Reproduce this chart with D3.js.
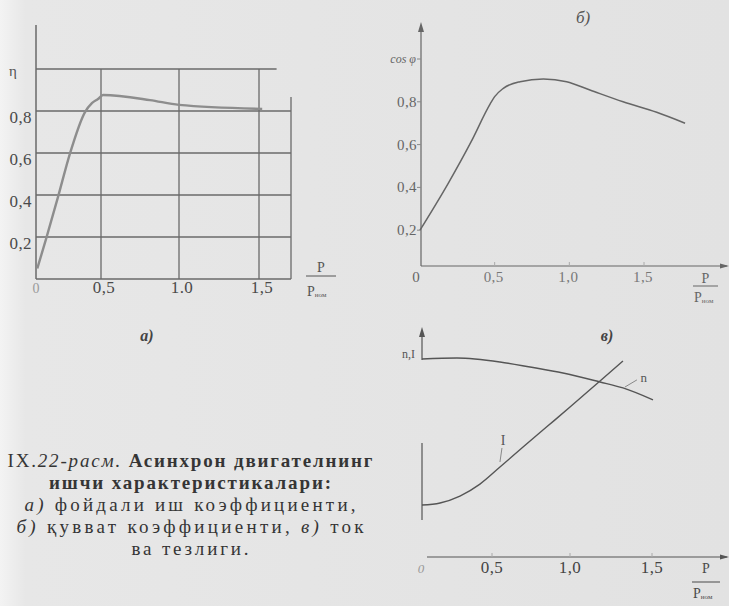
<!DOCTYPE html>
<html><head><meta charset="utf-8">
<script src="https://cdn.jsdelivr.net/npm/d3@7"></script>
<style>body{margin:0;background:#e3e3e3;} svg{display:block}</style>
</head><body><svg id="c" width="729" height="606"></svg>
<script>
// ---------- DATA ----------
// а) efficiency η vs P/Pном
const etaYTicks = [0.2, 0.4, 0.6, 0.8];
const etaYLabels = ["0,2", "0,4", "0,6", "0,8"];
const etaXTicks = [0.5, 1.0, 1.5];
const etaXLabels = ["0,5", "1.0", "1,5"];
const etaLoad   = [0.01, 0.077, 0.169, 0.26, 0.377, 0.43, 0.477, 0.513, 0.814, 1.0, 1.52];
const etaValues = [0.05, 0.19, 0.39, 0.595, 0.795, 0.838, 0.857, 0.876, 0.852, 0.829, 0.81];

// б) power factor cos φ vs P/Pном
const cosYTicks = [0.2, 0.4, 0.6, 0.8];
const cosYLabels = ["0,2", "0,4", "0,6", "0,8"];
const cosXTicks = [0.5, 1.0, 1.5];
const cosXLabels = ["0,5", "1,0", "1,5"];
const cosLoad   = [0, 0.19, 0.34, 0.47, 0.5, 0.558, 0.67, 0.826, 0.982, 1.138, 1.36, 1.585, 1.775];
const cosValues = [0.2, 0.42, 0.61, 0.79, 0.824, 0.863, 0.894, 0.907, 0.894, 0.855, 0.80, 0.751, 0.70];

// в) speed n and current I vs P/Pном (relative units)
const curXTicks = [0.5, 1.0, 1.5];
const curXLabels = ["0,5", "1,0", "1,5"];
const nLoad   = [0, 0.25, 0.551, 0.744, 0.955, 1.183, 1.323, 1.506];
const nValues = [0.861, 0.865, 0.848, 0.826, 0.80, 0.761, 0.735, 0.683];
const iLoad   = [0, 0.129, 0.271, 0.414, 0.551, 0.699, 0.853, 1.0, 1.183, 1.323];
const iValues = [0.226, 0.235, 0.265, 0.317, 0.391, 0.478, 0.567, 0.652, 0.765, 0.852];

// ---------- DRAW ----------
const svg = d3.select("#c");
const defs = svg.append("defs");
const grad = defs.append("linearGradient").attr("id","bg").attr("x1","0").attr("x2","1").attr("y1","0").attr("y2","0");
grad.append("stop").attr("offset","0").attr("stop-color","#f3f3f3");
grad.append("stop").attr("offset","0.035").attr("stop-color","#e7e7e7");
grad.append("stop").attr("offset","1").attr("stop-color","#e2e2e2");
svg.append("rect").attr("width",729).attr("height",606).attr("fill","url(#bg)");

const serif = "Liberation Serif, DejaVu Serif, serif";
function txt(g, x, y, s, o = {}) {
  return g.append("text").attr("x", x).attr("y", y).text(s)
    .attr("font-family", serif).attr("font-size", o.size || 16)
    .attr("fill", o.fill || "#4a4a4a")
    .attr("text-anchor", o.anchor || "start")
    .attr("font-style", o.italic ? "italic" : "normal")
    .attr("font-weight", o.bold ? "bold" : "normal")
    .attr("letter-spacing", o.ls || 0);
}
function fraction(g, x, yP, yLine, yB, w, fill) {
  txt(g, x + w/2, yP, "P", {size: 14, anchor: "middle", fill});
  g.append("line").attr("x1", x).attr("x2", x + w).attr("y1", yLine).attr("y2", yLine)
    .attr("stroke", fill).attr("stroke-width", 1);
  const t = txt(g, x + 1, yB, "P", {size: 14, fill});
  t.append("tspan").attr("font-size", 7).attr("dy", 1).text("ном");
}
function arrowUp(g, x, y, fill) {
  g.append("path").attr("d", `M${x},${y} L${x-3},${y+10} L${x+3},${y+10} Z`).attr("fill", fill);
}
function arrowRight(g, x, y, fill) {
  g.append("path").attr("d", `M${x},${y} L${x-9},${y-2.5} L${x-9},${y+2.5} Z`).attr("fill", fill);
}

// ===== Chart а =====
{
  const g = svg.append("g");
  const x = d3.scaleLinear().domain([0, 0.5, 1, 1.5]).range([36, 101, 179, 259]);
  const y = d3.scaleLinear().domain([0, 1]).range([279, 69]);
  const gc = "#6a6a6a";
  g.append("line").attr("x1", x(0)).attr("x2", x(0)).attr("y1", 25).attr("y2", y(0)).attr("stroke", gc).attr("stroke-width", 1.5);
  g.append("line").attr("x1", x(0)).attr("x2", x(1.7)).attr("y1", y(0)).attr("y2", y(0)).attr("stroke", gc).attr("stroke-width", 1.5);
  g.selectAll(".hg").data(etaYTicks).join("line")
    .attr("x1", x(0)).attr("x2", x(1.7)).attr("y1", d => y(d)).attr("y2", d => y(d))
    .attr("stroke", gc).attr("stroke-width", 1.3);
  g.append("line").attr("x1", x(0)).attr("x2", x(1.61)).attr("y1", y(1)).attr("y2", y(1)).attr("stroke", gc).attr("stroke-width", 1.3);
  g.selectAll(".vg").data(etaXTicks).join("line")
    .attr("x1", d => x(d)).attr("x2", d => x(d)).attr("y1", y(1)).attr("y2", y(0))
    .attr("stroke", gc).attr("stroke-width", 1.3);
  g.append("line").attr("x1", x(1.7)).attr("x2", x(1.7)).attr("y1", y(0.867)).attr("y2", y(0)).attr("stroke", gc).attr("stroke-width", 1.3);
  g.append("path").datum(etaLoad.map((v, i) => [v, etaValues[i]]))
    .attr("d", d3.line().x(d => x(d[0])).y(d => y(d[1])).curve(d3.curveMonotoneX))
    .attr("fill", "none").attr("stroke", "#8d8d8d").attr("stroke-width", 2.4);
  etaYTicks.forEach((v, i) => txt(g, 32, y(v) + 12, etaYLabels[i], {size: 17, anchor: "end", ls: 0.4, fill: "#4a4a4a"}));
  txt(g, 9, 76, "η", {size: 15, fill: "#555"});
  txt(g, x(0), 293, "0", {size: 14, anchor: "middle", fill: "#9a9a9a"});
  etaXTicks.forEach((v, i) => txt(g, x(v) + 3, 293, etaXLabels[i], {size: 17, anchor: "middle", ls: 0.4, fill: "#4a4a4a"}));
  fraction(g, 306, 272, 276, 296, 30, "#555");
  txt(g, 147, 341, "а)", {size: 16, anchor: "middle", italic: true, bold: true, fill: "#444"});
}

// ===== Chart б =====
{
  const g = svg.append("g");
  const x = d3.scaleLinear().domain([0, 1.5]).range([420, 644]);
  const y = d3.scaleLinear().domain([0, 1]).range([273, 59]);
  const ac = "#666", axisY = 266;
  g.append("line").attr("x1", 421).attr("x2", 421).attr("y1", 25).attr("y2", axisY).attr("stroke", ac).attr("stroke-width", 1.2);
  arrowUp(g, 421, 22, ac);
  g.append("line").attr("x1", 421).attr("x2", 727).attr("y1", axisY).attr("y2", axisY).attr("stroke", ac).attr("stroke-width", 1.2);
  arrowRight(g, 729, axisY, ac);
  g.selectAll(".yt").data([...cosYTicks, 1.0]).join("line")
    .attr("x1", 417).attr("x2", 421).attr("y1", d => y(d)).attr("y2", d => y(d)).attr("stroke", "#888");
  g.selectAll(".xt").data(cosXTicks).join("line")
    .attr("x1", d => x(d)).attr("x2", d => x(d)).attr("y1", axisY - 4).attr("y2", axisY).attr("stroke", "#aaa");
  g.append("path").datum(cosLoad.map((v, i) => [v, cosValues[i]]))
    .attr("d", d3.line().x(d => x(d[0])).y(d => y(d[1])).curve(d3.curveMonotoneX))
    .attr("fill", "none").attr("stroke", "#666").attr("stroke-width", 1.5);
  cosYTicks.forEach((v, i) => txt(g, 417, y(v) + 5, cosYLabels[i], {size: 15, anchor: "end", ls: 0.4, fill: "#666"}));
  txt(g, 416, y(1) + 4, "cos φ", {size: 12, anchor: "end", italic: true, fill: "#666"});
  txt(g, 416, 282, "0", {size: 15, anchor: "middle", fill: "#666"});
  cosXTicks.forEach((v, i) => txt(g, x(v) - 1, 282, cosXLabels[i], {size: 15, anchor: "middle", ls: 0.4, fill: "#777"}));
  fraction(g, 693, 283, 286, 302, 25, "#666");
  txt(g, 583, 23, "б)", {size: 17, anchor: "middle", italic: true, fill: "#555"});
}

// ===== Chart в =====
{
  const g = svg.append("g");
  const x = d3.scaleLinear().domain([0, 0.5, 1, 1.5]).range([422, 492, 570, 652]);
  const y = d3.scaleLinear().domain([0, 1]).range([557, 327]);
  const ac = "#555", axisY = 557;
  g.append("line").attr("x1", 422).attr("x2", 422).attr("y1", 332).attr("y2", 360).attr("stroke", ac).attr("stroke-width", 1.2);
  arrowUp(g, 422, 327, ac);
  g.append("line").attr("x1", 422).attr("x2", 422).attr("y1", 443).attr("y2", 520).attr("stroke", ac).attr("stroke-width", 1.2);
  g.append("line").attr("x1", 427).attr("x2", 727).attr("y1", axisY).attr("y2", axisY).attr("stroke", ac).attr("stroke-width", 1.2);
  arrowRight(g, 729, axisY, ac);
  g.selectAll(".xt").data(curXTicks).join("line")
    .attr("x1", d => x(d)).attr("x2", d => x(d)).attr("y1", axisY - 4).attr("y2", axisY).attr("stroke", "#aaa");
  const line = d3.line().x(d => x(d[0])).y(d => y(d[1])).curve(d3.curveMonotoneX);
  g.append("path").datum(nLoad.map((v, i) => [v, nValues[i]])).attr("d", line)
    .attr("fill", "none").attr("stroke", "#555").attr("stroke-width", 1.4);
  g.append("path").datum(iLoad.map((v, i) => [v, iValues[i]])).attr("d", line)
    .attr("fill", "none").attr("stroke", "#555").attr("stroke-width", 1.4);
  g.append("line").attr("x1", x(1.335)).attr("y1", y(0.739)).attr("x2", x(1.408)).attr("y2", y(0.77)).attr("stroke", "#888");
  txt(g, x(1.43), y(0.761), "n", {size: 13, fill: "#555"});
  g.append("line").attr("x1", x(0.551)).attr("y1", y(0.413)).attr("x2", x(0.564)).attr("y2", y(0.474)).attr("stroke", "#888");
  txt(g, x(0.571), y(0.487), "I", {size: 14, anchor: "middle", fill: "#555"});
  txt(g, 415, 358, "n,I", {size: 12, anchor: "end", fill: "#555"});
  txt(g, 421, 573, "0", {size: 13, anchor: "middle", italic: true, fill: "#999"});
  curXTicks.forEach((v, i) => txt(g, x(v), 573, curXLabels[i], {size: 17, anchor: "middle", ls: 0.4, fill: "#444"}));
  fraction(g, 692, 573, 582, 598, 28, "#4a4a4a");
  txt(g, 607, 341, "в)", {size: 16, anchor: "middle", italic: true, bold: true, fill: "#444"});
}

// ===== Caption =====
{
  const g = svg.append("g");
  const cx = 190, fill = "#353535";
  const mk = (yb, len) => g.append("text").attr("x", cx).attr("y", yb).attr("text-anchor", "middle")
    .attr("font-family", serif).attr("font-size", 19).attr("fill", fill)
    .attr("textLength", len).attr("lengthAdjust", "spacing");
  const l1 = mk(467, 365);
  l1.append("tspan").text("IX.");
  l1.append("tspan").attr("font-style", "italic").text("22-расм.");
  l1.append("tspan").attr("font-weight", "bold").text(" Асинхрон двигателнинг");
  const l2 = mk(489, 282);
  l2.append("tspan").attr("font-weight", "bold").text("ишчи характеристикалари:");
  const l3 = mk(511, 331);
  l3.append("tspan").attr("font-style", "italic").text("а)");
  l3.append("tspan").text(" фойдали иш коэффициенти,");
  const l4 = mk(533, 347);
  l4.append("tspan").attr("font-style", "italic").text("б)");
  l4.append("tspan").text(" қувват коэффициенти, ");
  l4.append("tspan").attr("font-style", "italic").text("в)");
  l4.append("tspan").text(" ток");
  const l5 = mk(555, 117);
  l5.append("tspan").text("ва тезлиги.");
}
</script>
</body></html>
